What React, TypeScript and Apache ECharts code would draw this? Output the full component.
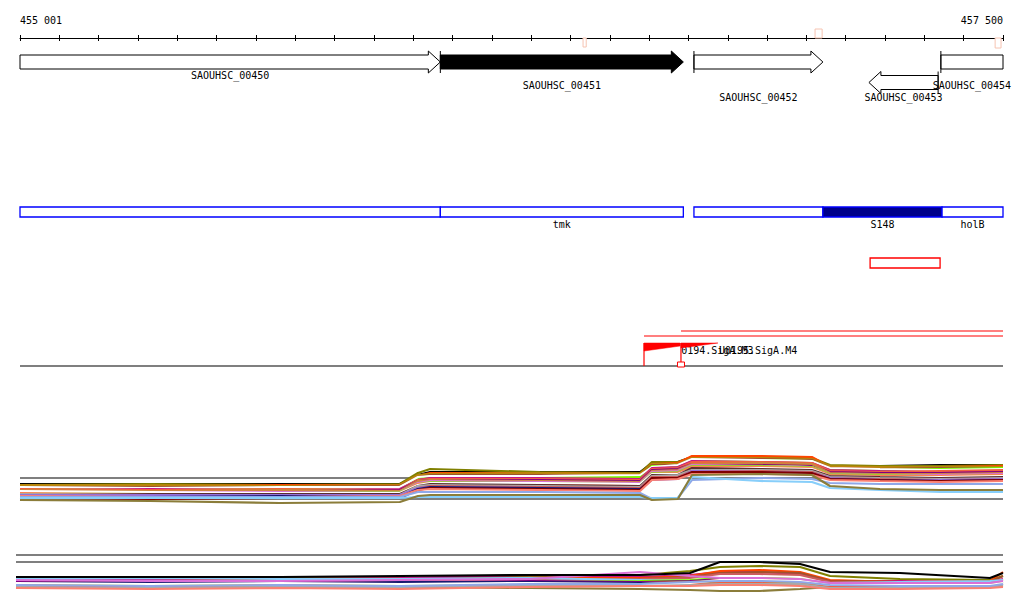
import React, { useEffect, useRef } from "react";
import * as echarts from "echarts";

// ---------- coordinate range ----------
const AXIS_MIN = 455000;
const AXIS_MAX = 457500;
const TICK_STEP = 100;
const axisEndLabels = ["455 001", "457 500"];

// ---------- genes ----------
const geneNames = ["SAOUHSC_00450", "SAOUHSC_00451", "SAOUHSC_00452", "SAOUHSC_00453", "SAOUHSC_00454"];
const geneFrom = [454700, 456069, 456714, 457335, 457342]; // 5' end
const geneTo = [456069, 456687, 457042, 457159, 457700]; // 3' end
const geneFilled = [false, true, false, false, false];

// ---------- small markers on the ruler ----------
const markFrom = [456432, 457022, 457480];
const markTo = [456440, 457040, 457495];

// ---------- transcribed segments ----------
const segFrom = [455000, 456069, 456714, 457042, 457345];
const segTo = [456069, 456687, 457042, 457345, 457500];
const segFilled = [false, false, false, true, false];
const segNames = ["", "tmk", "", "S148", "holB"];

// ---------- red box ----------
const boxFrom = [457162];
const boxTo = [457340];

// ---------- promoters ----------
const promFrom = [456587, 456681];
const promRampTo = [456679, 456775];
const promLineTo = [457500, 457500];
const promNames = ["0194.SigA.M3", "U0195.SigA.M4"];
const siteAt = [456681];

// ---------- expression track 1 ----------
const track1X = [455000, 455331, 455661, 455966, 456012, 456043, 456322, 456577, 456607, 456673, 456709, 456882, 457014, 457060, 457187, 457340, 457500];
const track1Ref = [3.2, 1.1];
const track1Colors = [
  "#000000", "#808000", "#ff4500", "#b8860b", "#a0522d", "#7cfc00", "#ffffff", "#c71585", "#f06040",
  "#800080", "#cd853f", "#da70d6", "#9acd32", "#ff7f50", "#ffffff", "#5c2e2e", "#a9a9a9", "#cd5c5c",
  "#9370db", "#191970", "#800000", "#fa8072", "#8fa8e8", "#87cefa", "#8b7d3a",
];
const track1Values = [
  [2.6, 2.6, 2.6, 2.6, 3.5, 3.8, 3.8, 3.8, 4.7, 4.8, 5.3, 5.2, 5.1, 4.4, 4.4, 4.5, 4.5],
  [2.5, 2.6, 2.5, 2.6, 3.7, 4.1, 3.8, 3.7, 4.8, 4.8, 5.3, 5.3, 5.2, 4.5, 4.4, 4.4, 4.5],
  [2.4, 2.4, 2.5, 2.5, 3.4, 3.7, 3.7, 3.6, 4.6, 4.7, 5.4, 5.4, 5.3, 4.3, 4.2, 4.3, 4.4],
  [2.5, 2.5, 2.4, 2.5, 3.5, 3.6, 3.7, 3.6, 4.6, 4.6, 5.2, 5.2, 5.1, 4.4, 4.3, 4.3, 4.3],
  [2.3, 2.3, 2.3, 2.4, 3.3, 3.5, 3.5, 3.4, 4.5, 4.5, 5.1, 5.1, 5.0, 4.2, 4.1, 4.2, 4.2],
  [2.2, 2.2, 2.2, 2.3, 3.2, 3.4, 3.3, 3.3, 4.4, 4.4, 5.0, 5.0, 4.9, 4.1, 4.0, 4.1, 4.2],
  [2.3, 2.2, 2.3, 2.3, 3.3, 3.4, 3.4, 3.5, 4.3, 4.5, 5.1, 5.0, 4.9, 4.2, 4.1, 4.0, 4.1],
  [2.0, 2.1, 2.0, 2.1, 3.0, 3.2, 3.2, 3.1, 4.2, 4.3, 4.9, 4.8, 4.7, 4.0, 3.9, 3.8, 3.9],
  [2.1, 2.0, 2.1, 2.0, 3.0, 3.1, 3.1, 3.0, 4.1, 4.2, 4.8, 4.8, 4.7, 3.9, 3.8, 3.9, 4.0],
  [1.9, 1.9, 1.9, 2.0, 2.9, 3.0, 3.0, 2.9, 4.0, 4.1, 4.6, 4.6, 4.5, 3.8, 3.7, 3.7, 3.8],
  [2.0, 1.9, 2.0, 1.9, 2.9, 3.0, 2.9, 2.8, 3.9, 4.0, 4.6, 4.7, 4.6, 3.7, 3.6, 3.6, 3.7],
  [1.8, 1.8, 1.8, 1.8, 2.7, 2.9, 2.8, 2.7, 3.8, 3.9, 4.5, 4.4, 4.3, 3.6, 3.5, 3.5, 3.6],
  [1.7, 1.7, 1.7, 1.8, 2.6, 2.8, 2.7, 2.6, 3.7, 3.8, 4.4, 4.4, 4.3, 3.6, 3.5, 3.4, 3.5],
  [1.7, 1.6, 1.6, 1.7, 2.6, 2.7, 2.6, 2.5, 3.6, 3.7, 4.3, 4.3, 4.2, 3.5, 3.4, 3.4, 3.5],
  [1.9, 1.8, 1.7, 1.7, 2.5, 2.7, 2.7, 2.6, 3.6, 3.6, 4.1, 4.2, 4.1, 3.4, 3.3, 3.3, 3.4],
  [1.5, 1.6, 1.6, 1.6, 2.4, 2.6, 2.5, 2.4, 3.5, 3.5, 4.2, 4.1, 4.0, 3.4, 3.3, 3.2, 3.3],
  [1.6, 1.5, 1.5, 1.5, 2.4, 2.5, 2.4, 2.3, 3.4, 3.5, 4.0, 4.0, 3.9, 3.3, 3.2, 3.1, 3.2],
  [1.4, 1.4, 1.4, 1.4, 2.2, 2.4, 2.3, 2.2, 3.3, 3.3, 3.9, 3.9, 3.8, 3.2, 3.1, 3.0, 3.1],
  [1.5, 1.5, 1.5, 1.5, 2.2, 2.3, 2.2, 2.0, 3.0, 3.1, 3.9, 3.8, 3.7, 3.2, 3.0, 3.0, 3.1],
  [1.3, 1.3, 1.4, 1.3, 2.1, 2.3, 2.2, 2.1, 3.1, 3.2, 3.7, 3.7, 3.6, 3.1, 3.0, 2.9, 3.0],
  [1.2, 1.1, 1.2, 1.2, 2.0, 2.2, 2.1, 2.0, 3.2, 3.2, 3.8, 3.8, 3.7, 3.1, 3.0, 2.9, 3.0],
  [1.4, 1.3, 1.3, 1.4, 2.0, 2.1, 2.0, 1.9, 3.0, 3.1, 3.6, 3.6, 3.5, 3.0, 2.9, 2.8, 2.9],
  [1.3, 1.3, 1.3, 1.3, 1.8, 1.8, 1.8, 1.7, 1.1, 1.2, 3.0, 3.2, 3.1, 2.7, 2.6, 2.6, 2.6],
  [1.2, 1.2, 1.2, 1.2, 1.3, 1.3, 1.3, 1.3, 1.2, 1.2, 3.3, 2.9, 2.8, 2.2, 2.0, 1.8, 1.8],
  [1.0, 0.9, 0.7, 0.8, 1.4, 1.5, 1.5, 1.5, 1.0, 1.1, 3.5, 3.6, 3.5, 2.4, 2.1, 2.0, 2.0],
];

// ---------- expression track 2 ----------
const track2X = [455000, 455339, 455669, 455973, 456302, 456581, 456707, 456783, 456884, 456986, 457062, 457239, 457467, 457500];
const track2Ref = [5.0, 4.3];
const track2Colors = [
  "#808000", "#8b7d3a", "#c71585", "#ff4500", "#a0522d", "#cd5c5c", "#87cefa", "#7cfc00", "#800080",
  "#cd853f", "#ff7f50", "#191970", "#9acd32", "#f06040", "#a9a9a9", "#da70d6", "#ffffff", "#8fa8e8",
  "#fa8072", "#000000",
];
const track2Values = [
  [2.6, 2.6, 2.7, 2.7, 2.8, 3.0, 3.4, 3.8, 3.9, 3.8, 2.9, 2.6, 2.5, 2.9],
  [1.7, 1.7, 1.7, 1.8, 1.7, 1.6, 1.5, 1.4, 1.4, 1.6, 1.8, 1.7, 1.8, 1.9],
  [2.5, 2.5, 2.6, 2.7, 3.0, 2.8, 3.0, 3.3, 3.3, 3.1, 2.4, 2.4, 2.3, 2.6],
  [2.4, 2.4, 2.5, 2.5, 2.7, 2.7, 2.9, 3.4, 3.5, 3.3, 2.5, 2.3, 2.4, 3.3],
  [2.4, 2.3, 2.4, 2.4, 2.6, 2.6, 2.8, 3.2, 3.3, 3.2, 2.4, 2.3, 2.3, 2.9],
  [2.3, 2.3, 2.3, 2.3, 2.5, 2.6, 2.7, 3.1, 3.1, 3.0, 2.3, 2.2, 2.2, 2.5],
  [2.6, 2.7, 2.6, 2.6, 2.7, 2.5, 2.4, 2.6, 2.6, 2.5, 2.2, 2.3, 2.4, 2.5],
  [2.0, 2.1, 2.0, 2.1, 2.3, 2.4, 2.5, 2.7, 2.7, 2.6, 2.1, 2.0, 2.1, 2.3],
  [2.3, 2.2, 2.3, 2.2, 2.4, 2.3, 2.4, 2.6, 2.6, 2.5, 2.1, 2.0, 2.1, 2.3],
  [2.1, 2.0, 2.1, 2.0, 2.2, 2.2, 2.3, 2.5, 2.5, 2.4, 1.9, 1.9, 2.0, 2.2],
  [1.9, 1.9, 1.8, 1.9, 2.1, 2.1, 2.2, 2.4, 2.4, 2.3, 1.8, 1.9, 1.9, 2.1],
  [2.2, 2.3, 2.2, 2.3, 2.3, 2.2, 2.1, 2.2, 2.2, 2.1, 1.9, 1.8, 1.9, 2.1],
  [1.9, 2.0, 1.9, 2.0, 2.1, 2.0, 2.1, 2.3, 2.3, 2.2, 1.8, 1.7, 1.9, 2.0],
  [1.8, 1.8, 1.7, 1.8, 2.0, 2.0, 2.1, 2.2, 2.2, 2.1, 1.8, 1.8, 1.8, 2.0],
  [1.8, 1.7, 1.8, 1.8, 1.9, 2.0, 2.0, 2.1, 2.1, 2.1, 1.7, 1.7, 1.8, 1.9],
  [2.5, 2.4, 2.4, 2.5, 2.6, 3.3, 2.9, 2.7, 2.7, 2.6, 2.2, 2.2, 2.2, 2.4],
  [2.2, 2.1, 2.2, 2.1, 2.2, 2.1, 2.2, 2.5, 2.5, 2.4, 2.0, 2.0, 2.0, 2.2],
  [2.0, 1.9, 2.0, 1.9, 2.1, 2.1, 2.3, 2.4, 2.4, 2.3, 2.0, 1.9, 1.9, 2.1],
  [1.7, 1.6, 1.7, 1.6, 1.8, 1.9, 1.9, 2.0, 2.0, 1.9, 1.6, 1.6, 1.7, 1.8],
  [2.8, 2.8, 2.8, 2.9, 3.0, 3.0, 3.2, 4.3, 4.3, 4.1, 3.3, 3.2, 2.7, 3.2],
];

// ---------- layout (pixel rows on the annotation panel) ----------
const FONT = "10px 'DejaVu Sans Mono', monospace";
const LINE_W = 2.1;
const geneRowY = [62, 62, 62, 82.5, 62];
const geneLabelY = [75, 85, 97, 97, 85];
const markTop = [38, 29, 38];
const markBottom = [47, 38, 48];
const segTop = 207;
const segBottom = 217;
const segLabelY = 224;
const boxTop = 258;
const boxBottom = 268;
const promLineY = [336, 331];
const promRampTop = 343;
const promRampBottom = [351, 348];
const promRampEndBottom = [346, 343];
const promBaseY = 366;
const promLabelY = 350;

function buildOption(): any {
  const series: any[] = [];

  // genes
  series.push({
    type: "custom",
    xAxisIndex: 0,
    yAxisIndex: 0,
    silent: true,
    data: geneFrom.map((f, i) => [f, geneTo[i]]),
    renderItem: (params: any, api: any) => {
      const i = params.dataIndex;
      const from = api.value(0);
      const to = api.value(1);
      const cs = params.coordSys;
      const L = cs.x;
      const R = cs.x + cs.width;
      const yc = api.coord([AXIS_MIN, geneRowY[i]])[1];
      const xf = api.coord([from, geneRowY[i]])[0];
      const xt = api.coord([to, geneRowY[i]])[0];
      const dir = to > from ? 1 : -1;
      const bh = 7, hh = 11, hl = 12;
      const tail = Math.min(Math.max(xf, L), R);
      const tipIn = xt >= L - 0.5 && xt <= R + 0.5;
      let pts: number[][];
      let head: number;
      if (tipIn) {
        const neck = xt - dir * hl;
        pts = [[tail, yc - bh], [neck, yc - bh], [neck, yc - hh], [xt, yc], [neck, yc + hh], [neck, yc + bh], [tail, yc + bh]];
        head = xt;
      } else {
        head = dir > 0 ? R : L;
        pts = [[tail, yc - bh], [head, yc - bh], [head, yc + bh], [tail, yc + bh]];
      }
      const children: any[] = [
        {
          type: "polygon",
          shape: { points: pts },
          style: { fill: geneFilled[i] ? "#000" : "#fff", stroke: "#000", lineWidth: 1 },
        },
      ];
      if (xf > L + 0.5 && xf < R - 0.5) {
        children.push({
          type: "line",
          shape: { x1: xf, y1: yc - hh, x2: xf, y2: yc + hh },
          style: { stroke: "#000", lineWidth: 1 },
        });
      }
      children.push({
        type: "text",
        style: {
          text: geneNames[i],
          x: (tail + head) / 2,
          y: api.coord([AXIS_MIN, geneLabelY[i]])[1],
          align: "center",
          verticalAlign: "middle",
          font: FONT,
          fill: "#000",
        },
      });
      return { type: "group", children };
    },
  });

  // ruler markers
  series.push({
    type: "custom",
    xAxisIndex: 0,
    yAxisIndex: 0,
    silent: true,
    data: markFrom.map((f, i) => [f, markTo[i]]),
    renderItem: (params: any, api: any) => {
      const i = params.dataIndex;
      const a = api.coord([api.value(0), markTop[i]]);
      const b = api.coord([api.value(1), markBottom[i]]);
      return {
        type: "rect",
        shape: { x: a[0], y: a[1], width: Math.max(b[0] - a[0], 3), height: b[1] - a[1] },
        style: { fill: "#fff", stroke: "#f6c4b2", lineWidth: 1 },
      };
    },
  });

  // blue segments
  series.push({
    type: "custom",
    xAxisIndex: 0,
    yAxisIndex: 0,
    silent: true,
    data: segFrom.map((f, i) => [f, segTo[i]]),
    renderItem: (params: any, api: any) => {
      const i = params.dataIndex;
      const a = api.coord([api.value(0), segTop]);
      const b = api.coord([api.value(1), segBottom]);
      const children: any[] = [
        {
          type: "rect",
          shape: { x: a[0], y: a[1], width: b[0] - a[0], height: b[1] - a[1] },
          style: { fill: segFilled[i] ? "#00008b" : "#fff", stroke: "#0000ff", lineWidth: 1.3 },
        },
      ];
      if (segNames[i]) {
        children.push({
          type: "text",
          style: {
            text: segNames[i],
            x: (a[0] + b[0]) / 2,
            y: api.coord([AXIS_MIN, segLabelY])[1],
            align: "center",
            verticalAlign: "middle",
            font: FONT,
            fill: "#000",
          },
        });
      }
      return { type: "group", children };
    },
  });

  // red box
  series.push({
    type: "custom",
    xAxisIndex: 0,
    yAxisIndex: 0,
    silent: true,
    data: boxFrom.map((f, i) => [f, boxTo[i]]),
    renderItem: (params: any, api: any) => {
      const a = api.coord([api.value(0), boxTop]);
      const b = api.coord([api.value(1), boxBottom]);
      return {
        type: "rect",
        shape: { x: a[0], y: a[1], width: b[0] - a[0], height: b[1] - a[1] },
        style: { fill: "#fff", stroke: "#ff0000", lineWidth: 1.3 },
      };
    },
  });

  // baseline of the promoter track
  series.push({
    type: "custom",
    xAxisIndex: 0,
    yAxisIndex: 0,
    silent: true,
    data: [[AXIS_MIN, AXIS_MAX]],
    renderItem: (params: any, api: any) => {
      const a = api.coord([api.value(0), promBaseY]);
      const b = api.coord([api.value(1), promBaseY]);
      return {
        type: "line",
        shape: { x1: a[0], y1: a[1], x2: b[0], y2: b[1] },
        style: { stroke: "#000", lineWidth: 1.2 },
      };
    },
  });

  // promoters
  series.push({
    type: "custom",
    xAxisIndex: 0,
    yAxisIndex: 0,
    silent: true,
    data: promFrom.map((f, i) => [f, promRampTo[i], promLineTo[i]]),
    renderItem: (params: any, api: any) => {
      const i = params.dataIndex;
      const xs = api.coord([api.value(0), 0])[0];
      const xr = api.coord([api.value(1), 0])[0];
      const xl = api.coord([api.value(2), 0])[0];
      const y = (v: number) => api.coord([AXIS_MIN, v])[1];
      const children: any[] = [
        {
          type: "line",
          shape: { x1: xs, y1: y(promLineY[i]), x2: xl, y2: y(promLineY[i]) },
          style: { stroke: "#ff0000", lineWidth: 1.2 },
        },
        {
          type: "polygon",
          shape: {
            points: [
              [xs, y(promRampTop)],
              [xr, y(promRampTop)],
              [xr, y(promRampEndBottom[i])],
              [xs, y(promRampBottom[i])],
            ],
          },
          style: { fill: "#ff0000", stroke: "#ff0000", lineWidth: 0.5 },
        },
        {
          type: "line",
          shape: { x1: xs, y1: y(promRampTop), x2: xs, y2: y(promBaseY) },
          style: { stroke: "#ff0000", lineWidth: 1.2 },
        },
        {
          type: "text",
          style: {
            text: promNames[i],
            x: xr + 1,
            y: y(promLabelY),
            align: "left",
            verticalAlign: "middle",
            font: FONT,
            fill: "#000",
          },
        },
      ];
      return { type: "group", children };
    },
  });

  // small site square
  series.push({
    type: "custom",
    xAxisIndex: 0,
    yAxisIndex: 0,
    silent: true,
    data: siteAt.map((v) => [v]),
    renderItem: (params: any, api: any) => {
      const p = api.coord([api.value(0), 362]);
      const q = api.coord([api.value(0), 367]);
      return {
        type: "rect",
        shape: { x: p[0] - 3.5, y: p[1], width: 7, height: q[1] - p[1] },
        style: { fill: "#fff", stroke: "#ff0000", lineWidth: 1 },
      };
    },
  });

  // track 1
  track1Ref.forEach((v) => {
    series.push({
      type: "line",
      xAxisIndex: 2,
      yAxisIndex: 2,
      silent: true,
      showSymbol: false,
      symbol: "none",
      data: [[AXIS_MIN, v], [AXIS_MAX, v]],
      lineStyle: { color: "#000", width: 1.2 },
    });
  });
  track1Values.forEach((vals, k) => {
    series.push({
      type: "line",
      xAxisIndex: 2,
      yAxisIndex: 2,
      silent: true,
      showSymbol: false,
      symbol: "none",
      data: track1X.map((x, j) => [x, vals[j]]),
      lineStyle: { color: track1Colors[k], width: LINE_W },
    });
  });

  // track 2
  track2Ref.forEach((v) => {
    series.push({
      type: "line",
      xAxisIndex: 3,
      yAxisIndex: 3,
      silent: true,
      showSymbol: false,
      symbol: "none",
      data: [[AXIS_MIN, v], [AXIS_MAX, v]],
      lineStyle: { color: "#000", width: 1.2 },
    });
  });
  track2Values.forEach((vals, k) => {
    series.push({
      type: "line",
      xAxisIndex: 3,
      yAxisIndex: 3,
      silent: true,
      showSymbol: false,
      symbol: "none",
      data: track2X.map((x, j) => [x, vals[j]]),
      lineStyle: { color: track2Colors[k], width: LINE_W },
    });
  });

  const hiddenX = (gridIndex: number) => ({
    type: "value",
    gridIndex,
    min: AXIS_MIN,
    max: AXIS_MAX,
    show: false,
  });

  return {
    animation: false,
    backgroundColor: "#fff",
    grid: [
      { left: 20, right: 21, top: 38, height: 342 },
      { left: 20, right: 21, top: 38, height: 1 },
      { left: 20, right: 21, top: 440, height: 70 },
      { left: 16, right: 21, top: 545, height: 60 },
    ],
    xAxis: [
      {
        type: "value",
        gridIndex: 0,
        position: "top",
        min: AXIS_MIN,
        max: AXIS_MAX,
        interval: TICK_STEP,
        axisLine: { show: true, onZero: false, lineStyle: { color: "#000", width: 1 } },
        axisTick: { show: true, inside: false, length: 3, lineStyle: { color: "#000", width: 1 } },
        splitLine: { show: false },
        axisLabel: {
          show: true,
          margin: 13,
          showMinLabel: true,
          showMaxLabel: true,
          alignMinLabel: "left",
          alignMaxLabel: "right",
          fontFamily: "'DejaVu Sans Mono', monospace",
          fontSize: 10,
          color: "#000",
          formatter: (v: number) =>
            v === AXIS_MIN ? axisEndLabels[0] : v === AXIS_MAX ? axisEndLabels[1] : "",
        },
      },
      {
        type: "value",
        gridIndex: 1,
        position: "top",
        min: AXIS_MIN,
        max: AXIS_MAX,
        interval: TICK_STEP,
        axisLine: { show: false, onZero: false },
        axisTick: { show: true, inside: true, length: 3, lineStyle: { color: "#000", width: 1 } },
        splitLine: { show: false },
        axisLabel: { show: false },
      },
      hiddenX(2),
      hiddenX(3),
    ],
    yAxis: [
      { type: "value", gridIndex: 0, min: 38, max: 380, inverse: true, show: false },
      { type: "value", gridIndex: 1, min: 0, max: 1, show: false },
      { type: "value", gridIndex: 2, min: 0, max: 7, show: false },
      { type: "value", gridIndex: 3, min: 0, max: 6, show: false },
    ],
    series,
  };
}

export default function App() {
  const ref = useRef<HTMLDivElement>(null);
  useEffect(() => {
    document.body.style.margin = "0";
    const chart = echarts.init(ref.current!, null, { renderer: "svg" });
    chart.setOption(buildOption());
    return () => chart.dispose();
  }, []);
  return <div ref={ref} style={{ width: 1024, height: 611, background: "#fff" }} />;
}
